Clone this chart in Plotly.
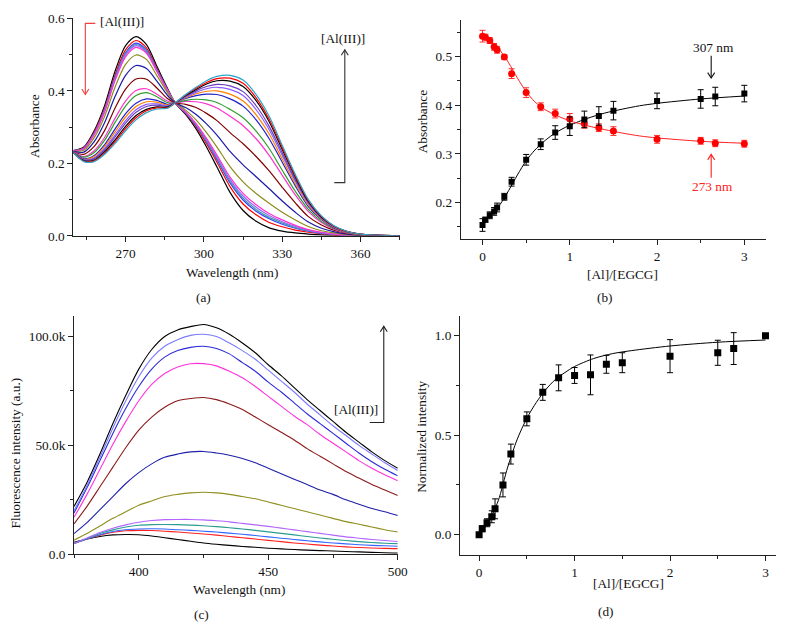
import plotly.graph_objects as go

W, H = 778, 625          # page body keeps its default 8px margin
OFF = 8.0
S = 0.988                # measured horizontal scale of the captured page
FONT = "Liberation Serif"
FS = 13.3

# ---------------- Panel (a): UV-vis spectra ----------------
wl_a = [250, 254, 258, 262, 266, 270, 274, 278, 282, 286, 289, 293, 297, 301, 305,
        310, 315, 320, 325, 330, 335, 340, 345, 350, 355, 360, 375]
uv_00 = [0.235, 0.245, 0.290, 0.360, 0.455, 0.525, 0.550, 0.528, 0.468, 0.408, 0.367, 0.335, 0.295, 0.245, 0.190, 0.120, 0.070, 0.040, 0.022, 0.013, 0.008, 0.005, 0.003, 0.002, 0.001, 0.0005, 0.0]
uv_01 = [0.235, 0.243, 0.286, 0.353, 0.445, 0.513, 0.539, 0.519, 0.462, 0.405, 0.367, 0.338, 0.301, 0.254, 0.203, 0.136, 0.088, 0.058, 0.037, 0.025, 0.016, 0.010, 0.006, 0.003, 0.002, 0.001, 0.0]
uv_02 = [0.235, 0.242, 0.283, 0.349, 0.439, 0.506, 0.532, 0.513, 0.459, 0.404, 0.367, 0.339, 0.304, 0.260, 0.210, 0.146, 0.099, 0.068, 0.047, 0.032, 0.021, 0.013, 0.007, 0.004, 0.002, 0.001, 0.0]
uv_03 = [0.235, 0.241, 0.282, 0.347, 0.436, 0.503, 0.528, 0.510, 0.457, 0.403, 0.367, 0.340, 0.306, 0.262, 0.214, 0.151, 0.104, 0.073, 0.051, 0.036, 0.023, 0.014, 0.008, 0.004, 0.002, 0.001, 0.0]
uv_04 = [0.234, 0.241, 0.281, 0.345, 0.433, 0.499, 0.525, 0.507, 0.455, 0.402, 0.367, 0.341, 0.308, 0.265, 0.218, 0.156, 0.110, 0.079, 0.056, 0.039, 0.026, 0.016, 0.009, 0.005, 0.002, 0.001, 0.0]
uv_05 = [0.234, 0.240, 0.279, 0.342, 0.429, 0.494, 0.520, 0.504, 0.453, 0.401, 0.367, 0.342, 0.310, 0.269, 0.223, 0.162, 0.117, 0.086, 0.062, 0.044, 0.029, 0.017, 0.010, 0.005, 0.002, 0.001, 0.0]
uv_06 = [0.234, 0.236, 0.271, 0.330, 0.411, 0.473, 0.499, 0.487, 0.442, 0.396, 0.367, 0.347, 0.320, 0.285, 0.245, 0.191, 0.149, 0.117, 0.090, 0.065, 0.044, 0.026, 0.014, 0.008, 0.003, 0.0015, 0.0]
uv_07 = [0.233, 0.231, 0.260, 0.313, 0.385, 0.443, 0.470, 0.462, 0.427, 0.388, 0.367, 0.354, 0.335, 0.309, 0.278, 0.233, 0.196, 0.163, 0.130, 0.096, 0.065, 0.038, 0.021, 0.011, 0.005, 0.002, 0.0]
uv_08 = [0.232, 0.225, 0.247, 0.291, 0.353, 0.405, 0.433, 0.432, 0.408, 0.379, 0.367, 0.363, 0.354, 0.338, 0.318, 0.285, 0.254, 0.219, 0.179, 0.134, 0.091, 0.053, 0.030, 0.015, 0.007, 0.003, 0.0]
uv_09 = [0.232, 0.219, 0.235, 0.272, 0.325, 0.372, 0.401, 0.406, 0.391, 0.372, 0.367, 0.371, 0.370, 0.364, 0.353, 0.330, 0.304, 0.268, 0.222, 0.167, 0.113, 0.067, 0.037, 0.018, 0.008, 0.003, 0.0]
uv_10 = [0.231, 0.217, 0.230, 0.264, 0.313, 0.358, 0.387, 0.395, 0.384, 0.368, 0.367, 0.374, 0.377, 0.375, 0.368, 0.349, 0.326, 0.289, 0.241, 0.181, 0.123, 0.073, 0.040, 0.020, 0.009, 0.0035, 0.0]
uv_11 = [0.231, 0.213, 0.222, 0.252, 0.295, 0.337, 0.366, 0.378, 0.374, 0.363, 0.367, 0.379, 0.387, 0.391, 0.390, 0.378, 0.358, 0.320, 0.268, 0.203, 0.138, 0.081, 0.045, 0.022, 0.010, 0.004, 0.0]
uv_12 = [0.231, 0.211, 0.219, 0.247, 0.287, 0.328, 0.357, 0.370, 0.369, 0.361, 0.367, 0.381, 0.392, 0.399, 0.400, 0.391, 0.372, 0.334, 0.281, 0.212, 0.144, 0.085, 0.047, 0.023, 0.010, 0.004, 0.0]
uv_13 = [0.231, 0.210, 0.215, 0.241, 0.279, 0.318, 0.348, 0.363, 0.364, 0.359, 0.367, 0.383, 0.396, 0.406, 0.410, 0.404, 0.387, 0.348, 0.293, 0.222, 0.151, 0.089, 0.049, 0.024, 0.011, 0.0045, 0.0]
uv_14 = [0.230, 0.209, 0.213, 0.237, 0.273, 0.311, 0.341, 0.357, 0.361, 0.357, 0.367, 0.385, 0.400, 0.412, 0.418, 0.414, 0.398, 0.359, 0.302, 0.229, 0.155, 0.092, 0.050, 0.025, 0.011, 0.0045, 0.0]
uv_15 = [0.230, 0.207, 0.209, 0.232, 0.265, 0.302, 0.332, 0.349, 0.356, 0.355, 0.367, 0.387, 0.404, 0.419, 0.428, 0.427, 0.412, 0.373, 0.315, 0.238, 0.162, 0.095, 0.052, 0.026, 0.012, 0.005, 0.0]
uv_16 = [0.230, 0.206, 0.207, 0.228, 0.260, 0.296, 0.326, 0.345, 0.353, 0.353, 0.367, 0.389, 0.407, 0.423, 0.434, 0.435, 0.421, 0.381, 0.322, 0.244, 0.166, 0.098, 0.054, 0.026, 0.012, 0.005, 0.0]
uv_17 = [0.230, 0.205, 0.205, 0.225, 0.255, 0.290, 0.320, 0.340, 0.350, 0.352, 0.367, 0.390, 0.410, 0.428, 0.440, 0.443, 0.430, 0.390, 0.330, 0.250, 0.170, 0.100, 0.055, 0.027, 0.012, 0.005, 0.0]
uv_curves = [uv_00, uv_01, uv_02, uv_03, uv_04, uv_05, uv_06, uv_07, uv_08,
             uv_09, uv_10, uv_11, uv_12, uv_13, uv_14, uv_15, uv_16, uv_17]
uv_colors = ["#000000", "#ff0000", "#3b3bff", "#3aa0a0", "#9966ff", "#ff33cc",
             "#8c8c1a", "#1a1aaa", "#800000", "#ff33cc", "#2e9e2e", "#2222cc",
             "#ff8000", "#8a5cff", "#6a3dbd", "#000000", "#ff0000", "#2aa7c9"]

# ---------------- Panel (b): absorbance vs ratio ----------------
ratio = [0, 0.033, 0.083, 0.133, 0.167, 0.25, 0.333, 0.5, 0.667, 0.833, 1.0,
         1.167, 1.333, 1.5, 2.0, 2.5, 2.667, 3.0]
abs_307 = [0.154, 0.165, 0.174, 0.182, 0.190, 0.212, 0.243, 0.288, 0.320, 0.344, 0.357,
           0.371, 0.378, 0.389, 0.409, 0.413, 0.418, 0.424]
err_307 = [0.013, 0.005, 0.007, 0.008, 0.009, 0.007, 0.009, 0.011, 0.011, 0.014, 0.019,
           0.017, 0.019, 0.019, 0.016, 0.019, 0.019, 0.017]
abs_273 = [0.542, 0.540, 0.533, 0.520, 0.514, 0.499, 0.465, 0.426, 0.397, 0.383, 0.372,
           0.362, 0.354, 0.347, 0.330, 0.327, 0.322, 0.321]
err_273 = [0.012, 0.006, 0.006, 0.007, 0.007, 0.005, 0.010, 0.010, 0.008, 0.009, 0.011,
           0.009, 0.008, 0.009, 0.008, 0.007, 0.007, 0.007]
fit_x_b = [0, 0.1, 0.2, 0.3, 0.4, 0.5, 0.6, 0.7, 0.8, 0.9, 1.0, 1.2, 1.4, 1.6, 1.8, 2.0, 2.5, 3.0]
fit_307 = [0.160, 0.176, 0.196, 0.225, 0.257, 0.286, 0.308, 0.325, 0.339, 0.350, 0.359,
           0.373, 0.384, 0.392, 0.399, 0.404, 0.413, 0.419]
fit_273 = [0.543, 0.532, 0.513, 0.487, 0.456, 0.428, 0.407, 0.393, 0.383, 0.375, 0.368,
           0.358, 0.350, 0.343, 0.337, 0.333, 0.326, 0.322]

# ---------------- Panel (c): fluorescence spectra (k a.u.) ----------------
wl_c = [375, 380, 385, 390, 395, 400, 405, 410, 415, 420, 425, 430, 435, 440, 445,
        450, 455, 460, 465, 470, 475, 480, 485, 490, 495, 500]
fl_00 = [5.5, 7, 8.2, 8.9, 9.1, 9, 8.4, 7.6, 6.8, 6, 5.2, 4.6, 4.1, 3.6, 3.2, 2.8, 2.5, 2.2, 1.9, 1.7, 1.5, 1.3, 1.1, 0.9, 0.7, 0.6]
fl_01 = [5, 7, 8.8, 10.1, 10.8, 11, 10.9, 10.6, 10.2, 9.8, 9.3, 8.8, 8.2, 7.6, 7, 6.4, 5.8, 5.2, 4.7, 4.2, 3.8, 3.4, 3.1, 2.9, 2.7, 2.6]
fl_02 = [5, 7, 9, 10.5, 11.3, 11.6, 11.7, 11.6, 11.3, 11, 10.6, 10.2, 9.7, 9.2, 8.6, 8, 7.4, 6.8, 6.2, 5.7, 5.2, 4.8, 4.4, 4.1, 3.9, 3.7]
fl_03 = [5, 7.2, 9.5, 11.2, 12.5, 13.3, 13.6, 13.7, 13.6, 13.4, 13.1, 12.7, 12.2, 11.6, 11, 10.3, 9.6, 8.9, 8.2, 7.5, 6.9, 6.3, 5.8, 5.4, 5.1, 4.9]
fl_04 = [5, 7.5, 10, 12, 13.5, 14.7, 15.5, 15.9, 16, 16, 15.8, 15.4, 14.9, 14.2, 13.5, 12.8, 12, 11.2, 10.4, 9.6, 8.8, 8, 7.4, 6.8, 6.3, 5.9]
fl_05 = [6.5, 9.5, 13, 16.5, 19.5, 22.5, 24.5, 26.5, 27.5, 28.2, 28.5, 28.2, 27.5, 26.5, 25.5, 24, 22.5, 21, 19.5, 18, 16.5, 15, 13.8, 12.5, 11.3, 10.2]
fl_06 = [9.5, 14.5, 20.5, 26.5, 32.5, 37.5, 41.5, 44.5, 46, 47, 47.2, 46.5, 45.5, 44, 42, 39.5, 37, 34.5, 32, 29.5, 27.5, 25, 23, 21, 19.5, 17.8]
fl_07 = [14, 22, 31, 40, 49, 57, 63, 67.5, 70.5, 71.5, 72, 71, 69, 66.5, 63, 59.5, 56, 52.5, 48.5, 45, 41.5, 38, 35, 32, 29.5, 27]
fl_08 = [17, 27.5, 39, 50.5, 61, 70.5, 78, 83, 86, 87.5, 87.5, 86.5, 84, 81, 77, 72.5, 68, 63.5, 59.5, 55, 51, 47, 43, 39.5, 36.5, 33.8]
fl_09 = [19, 30.5, 43, 55.5, 67, 77, 85, 90.5, 93.5, 95, 95.5, 94.5, 92, 88, 84, 79, 74.5, 69.5, 64.5, 60, 55.5, 51, 46.5, 42.5, 39, 36]
fl_10 = [20, 31.5, 44.5, 58, 70.5, 81.5, 90, 95.5, 98.5, 100.5, 101, 100, 97, 93.5, 89.5, 84.5, 79.5, 74.5, 69, 64, 59, 54.5, 50, 46, 42, 38.5]
fl_11 = [22, 33, 46, 60, 73, 85, 94, 100, 103, 104.5, 105.5, 104, 101, 97, 92.5, 87, 82, 76.5, 71, 66, 61, 56, 51.5, 47, 43, 39.5]
fl_curves = [fl_00, fl_01, fl_02, fl_03, fl_04, fl_05, fl_06, fl_07, fl_08, fl_09, fl_10, fl_11]
fl_colors = ["#000000", "#ff2020", "#3366ff", "#2a9d8f", "#b266ff", "#8f8f1f",
             "#1f1fa8", "#8b1a1a", "#ff33dd", "#2b2bd9", "#7b7bff", "#000000"]

# ---------------- Panel (d): normalized intensity ----------------
norm_int = [0, 0.03, 0.06, 0.09, 0.13, 0.25, 0.405, 0.582, 0.715, 0.788, 0.80,
            0.803, 0.856, 0.864, 0.897, 0.914, 0.935, 1.0]
norm_err = [0, 0.015, 0.02, 0.03, 0.05, 0.06, 0.05, 0.035, 0.04, 0.065, 0.04,
            0.1, 0.045, 0.05, 0.083, 0.063, 0.08, 0]
fit_x_d = [0, 0.1, 0.2, 0.3, 0.4, 0.5, 0.6, 0.7, 0.8, 0.9, 1.0, 1.2, 1.4, 1.6, 2.0, 2.5, 3.0]
fit_d = [0, 0.065, 0.17, 0.34, 0.48, 0.585, 0.665, 0.73, 0.78, 0.815, 0.845,
         0.885, 0.91, 0.925, 0.948, 0.967, 0.978]


# target-pixel -> paper mapping (calibrated against earlier renders)
def px(x):
    return min(1.0, (x / S - OFF) / W)


def py(y):
    page_y = 3.5 + (y - 13.3) * 1.01546
    return 1 - page_y / H


fig = go.Figure()


def add_line(x, y, color, xa, ya, width=1.2, spline=True):
    fig.add_trace(go.Scatter(
        x=x, y=y, mode="lines",
        line=dict(color=color, width=width, shape="spline" if spline else "linear", smoothing=0.8),
        xaxis=xa, yaxis=ya, showlegend=False, hoverinfo="skip"))


for curve, col in zip(uv_curves, uv_colors):
    add_line(wl_a, curve, col, "x", "y")

# panel b
add_line(fit_x_b, fit_307, "#000000", "x2", "y2", width=1.0)
add_line(fit_x_b, fit_273, "#ff2020", "x2", "y2", width=1.0)
fig.add_trace(go.Scatter(
    x=ratio, y=abs_273, mode="markers", xaxis="x2", yaxis="y2", showlegend=False,
    marker=dict(symbol="circle", size=7, color="#ff0000"),
    error_y=dict(type="data", array=err_273, color="#ff3030", thickness=1, width=3)))
fig.add_trace(go.Scatter(
    x=ratio, y=abs_307, mode="markers", xaxis="x2", yaxis="y2", showlegend=False,
    marker=dict(symbol="square", size=6, color="#000000"),
    error_y=dict(type="data", array=err_307, color="#000000", thickness=1, width=3)))

for curve, col in zip(fl_curves, fl_colors):
    add_line(wl_c, curve, col, "x3", "y3", width=1.1)

# panel d
add_line(fit_x_d, fit_d, "#000000", "x4", "y4", width=1.0)
fig.add_trace(go.Scatter(
    x=ratio, y=norm_int, mode="markers", xaxis="x4", yaxis="y4", showlegend=False,
    marker=dict(symbol="square", size=7, color="#000000"),
    error_y=dict(type="data", array=norm_err, color="#000000", thickness=1, width=3)))


def ax(**kw):
    d = dict(showline=True, linecolor="#222222", linewidth=1, ticks="outside", ticklen=5,
             tickwidth=1, tickcolor="#222222", showgrid=False, zeroline=False, mirror=False,
             ticklabeloverflow="allow",
             tickfont=dict(family=FONT, size=FS, color="#111111"))
    d.update(kw)
    return d


def mnr(dt=None, vals=None):
    m = dict(ticks="outside", ticklen=3, tickwidth=1, tickcolor="#222222", showgrid=False)
    if dt is not None:
        m["dtick"] = dt
    if vals is not None:
        m["tickvals"] = vals
    return m


fig.update_layout(
    width=W, height=H, margin=dict(l=0, r=0, t=0, b=0),
    paper_bgcolor="white", plot_bgcolor="white", showlegend=False,
    font=dict(family=FONT, size=FS, color="#111111"),
    xaxis=ax(domain=[px(73.3), px(400)], range=[250, 375], tick0=270, dtick=30,
             minor=mnr(15), anchor="y"),
    yaxis=ax(domain=[py(232.7), py(13.3)], range=[0, 0.6], tickmode="array",
             tickvals=[0, 0.2, 0.4, 0.6], ticktext=["0.0", "0.2", "0.4", "0.6"],
             minor=mnr(vals=[0.1, 0.3, 0.5]), anchor="x"),
    xaxis2=ax(domain=[px(461), px(766.7)], range=[-0.25, 3.25], tick0=0, dtick=1,
              minor=mnr(0.5), anchor="y2"),
    yaxis2=ax(domain=[py(236), py(15)], range=[0.125, 0.575], tick0=0, dtick=0.1,
              tickformat=".1f", minor=mnr(0.05), anchor="x2"),
    xaxis3=ax(domain=[px(74), px(398)], range=[375, 500], tick0=400, dtick=50,
              minor=mnr(25), anchor="y3"),
    yaxis3=ax(domain=[py(554), py(313.3)], range=[0, 109.5], tickmode="array",
              tickvals=[0, 50, 100], ticktext=["0.0", "50.0k", "100.0k"],
              minor=mnr(vals=[25, 75]), anchor="x3"),
    xaxis4=ax(domain=[px(460.3), px(785)], range=[-0.2, 3.11], tick0=0, dtick=1,
              minor=mnr(0.5), anchor="y4"),
    yaxis4=ax(domain=[py(554.3), py(313.3)], range=[-0.1, 1.1], tick0=0, dtick=0.5,
              tickformat=".1f", minor=mnr(0.25), anchor="x4"),
)

texts = [
    ("Wavelength (nm)", 231.7, 269.3, 0, "#111111"),
    ("Absorbance", 35, 121.7, -90, "#111111"),
    ("(a)", 204, 295, 0, "#111111"),
    ("Absorbance", 422.7, 116.7, -90, "#111111"),
    ("[Al]/[EGCG]", 623.3, 271.7, 0, "#111111"),
    ("(b)", 605, 295, 0, "#111111"),
    ("Fluorescence intensity (a.u.)", 15.5, 451.7, -90, "#111111"),
    ("Wavelength (nm)", 239, 589.3, 0, "#111111"),
    ("(c)", 201.7, 615, 0, "#111111"),
    ("Normalized intensity", 421.7, 435, -90, "#111111"),
    ("[Al]/[EGCG]", 629, 583.3, 0, "#111111"),
    ("(d)", 606.7, 611.7, 0, "#111111"),
    ("[Al(III)]", 121.7, 16.7, 0, "#111111"),
    ("[Al(III)]", 343, 33.3, 0, "#111111"),
    ("307 nm", 714, 42.7, 0, "#111111"),
    ("273 nm", 712.7, 182.7, 0, "#ff2020"),
    ("[Al(III)]", 355.8, 408.3, 0, "#111111"),
]
for t, x, y, rot, col in texts:
    fig.add_annotation(text=t, x=px(x), y=py(y), xref="paper", yref="paper",
                       showarrow=False, textangle=rot, xanchor="center", yanchor="middle",
                       font=dict(family=FONT, size=FS, color=col))


def path(points, color):
    d = "M " + " L ".join(f"{px(a):.5f},{py(b):.5f}" for a, b in points)
    fig.add_shape(type="path", path=d, xref="paper", yref="paper",
                  line=dict(color=color, width=1.1))


# (a) red bracket arrow (down)
path([(95.3, 18.3), (85.3, 18.3), (85.3, 90)], "#f04040")
path([(81.8, 84.5), (85.3, 90), (88.8, 84.5)], "#f04040")
# (a) black bracket arrow (up)
path([(334.5, 179), (345, 179), (345, 45)], "#333333")
path([(341.5, 50.5), (345, 45), (348.5, 50.5)], "#333333")
# (b) arrows
path([(711.7, 51), (711.7, 73.5)], "#111111")
path([(708.2, 68), (711.7, 73.5), (715.2, 68)], "#111111")
path([(711.7, 174), (711.7, 150.5)], "#ff2020")
path([(708.2, 156), (711.7, 150.5), (715.2, 156)], "#ff2020")
# (c) arrow
path([(370, 421), (384, 421), (384, 324)], "#222222")
path([(380.5, 329.5), (384, 324), (387.5, 329.5)], "#222222")

fig.write_html("out.html", config={"displayModeBar": False})
